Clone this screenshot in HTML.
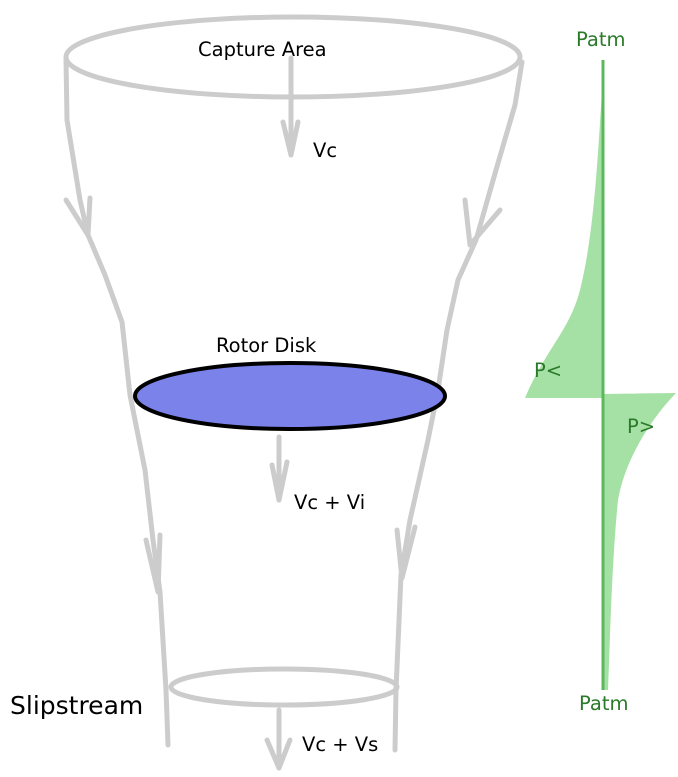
<!DOCTYPE html>
<html><head><style>body{margin:0;background:#fff}svg{display:block}</style></head><body>
<svg width="678" height="777" viewBox="0 0 678 777" xmlns="http://www.w3.org/2000/svg" font-family="DejaVu Sans, Liberation Sans, sans-serif">
<g fill="none" stroke="#cccccc" stroke-width="5" stroke-linecap="round" stroke-linejoin="round">
<ellipse cx="293" cy="57" rx="227" ry="40"/>
<polyline points="66,58 67,120 80,200 88,235 105,275 122,322 130,395 145,470 153,540 160,592 166,690 168,745"/>
<polyline points="66,200 88,235 90,198"/>
<polyline points="146,540 158,592 160,535"/>
<polyline points="522,62 515,105 496,170 476,240 458,280 447,330 438,390 428,440 410,520 401,575 396,690 395,750"/>
<polyline points="465,200 470,245 500,210"/>
<polyline points="397,530 402,578 415,527"/>
<line x1="291" y1="58" x2="291" y2="155"/><polyline points="283,122 291,155 298,122"/>
<line x1="279" y1="437" x2="279" y2="500"/><polyline points="272,465 279,500 287,462"/>
<line x1="279" y1="710" x2="279" y2="768"/><polyline points="267,740 279,768 290,740"/>
<ellipse cx="284" cy="687" rx="113" ry="18"/>
</g>
<ellipse cx="290" cy="396" rx="155" ry="33" fill="#7b83eb" stroke="#000" stroke-width="4"/>
<path d="M604,60 C598,150 595,230 580,290 C570,330 545,350 525,398 L603,398 Z" fill="#a5e0a5"/>
<path d="M603,394 L676,393 C650,420 625,460 618,500 C612,560 610,640 608,690 L603,690 Z" fill="#a5e0a5"/>
<line x1="603" y1="60" x2="603" y2="690" stroke="#5cb85c" stroke-width="3"/>
<g font-size="19.5" fill="#000">
<text x="198" y="56">Capture Area</text>
<text x="313" y="157">Vc</text>
<text x="216" y="352">Rotor Disk</text>
<text x="294" y="509">Vc + Vi</text>
<text x="302" y="751">Vc + Vs</text>
<text x="10" y="714" font-size="25">Slipstream</text>
</g>
<g font-size="19.5" fill="#2a7a2a">
<text x="576" y="46">Patm</text>
<text x="534" y="377">P&lt;</text>
<text x="627" y="433">P&gt;</text>
<text x="579" y="710">Patm</text>
</g>
</svg>
</body></html>
